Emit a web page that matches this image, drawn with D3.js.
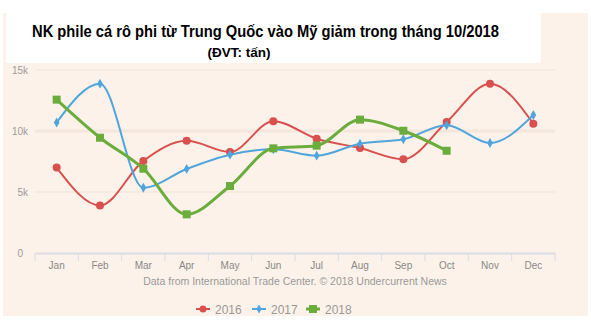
<!DOCTYPE html>
<html>
<head>
<meta charset="utf-8">
<script src="https://cdn.jsdelivr.net/npm/d3@7"></script>
<style>
  html, body { margin: 0; padding: 0; background: #ffffff; }
  svg { display: block; }
</style>
</head>
<body>
<svg id="chart" width="591" height="325"></svg>
<script>
const months = ["Jan","Feb","Mar","Apr","May","Jun","Jul","Aug","Sep","Oct","Nov","Dec"];
const values2016 = [7000, 3900, 7550, 9200, 8280, 10800, 9370, 8600, 7680, 10740, 13880, 10600];
const values2017 = [10700, 13880, 5350, 6890, 8060, 8500, 7980, 8960, 9320, 10470, 9020, 11310];
const values2018 = [12570, 9450, 6910, 3170, 5490, 8580, 8800, 10930, 10020, 8380];
const yTicks = [0, 5000, 10000, 15000];
const yTickLabels = ["0", "5k", "10k", "15k"];
const seriesNames = ["2016", "2017", "2018"];
const title = "NK phile cá rô phi từ Trung Quốc vào Mỹ giảm trong tháng 10/2018";
const subtitle = "(ĐVT: tấn)";
const credits = "Data from International Trade Center. © 2018 Undercurrent News";

const colors = ["#d9504e", "#4fa5dc", "#6aad3d"];
const font = "'Liberation Sans', Arial, sans-serif";

const svg = d3.select("#chart");

// backgrounds
svg.append("rect").attr("x", 3).attr("y", 13).attr("width", 585).attr("height", 303).attr("fill", "#fdf2e9");
svg.append("rect").attr("x", 6).attr("y", 13).attr("width", 535).attr("height", 50).attr("fill", "#ffffff");

// titles
svg.append("text").attr("x", 32).attr("y", 37).attr("font-family", font).attr("font-weight", "bold")
  .attr("font-size", 16).attr("fill", "#000")
  .attr("textLength", 467).attr("lengthAdjust", "spacingAndGlyphs").text(title);
svg.append("text").attr("x", 239).attr("y", 57).attr("text-anchor", "middle").attr("font-family", font)
  .attr("font-weight", "bold").attr("font-size", 13.5).attr("fill", "#000").text(subtitle);

const x = d3.scaleBand().domain(months).range([35, 555]);
const y = d3.scaleLinear().domain([0, 15000]).range([253, 70]);

// gridlines
const grid = svg.append("g");
yTicks.forEach((t, i) => {
  if (t === 0) return;
  grid.append("line").attr("x1", 35).attr("x2", 555).attr("y1", y(t)).attr("y2", y(t))
    .attr("stroke", t === 10000 ? "#f3e6dc" : "#f1e2d6").attr("stroke-width", t === 10000 ? 3 : 1);
  grid.append("text").attr("x", 28).attr("y", y(t) + 4).attr("text-anchor", "end")
    .attr("font-family", font).attr("font-size", 10).attr("fill", "#9a9a9a").text(yTickLabels[i]);
});
svg.append("text").attr("x", 23).attr("y", y(0) + 4).attr("text-anchor", "end")
  .attr("font-family", font).attr("font-size", 10).attr("fill", "#9a9a9a").text(yTickLabels[0]);

// x axis
const xAxis = d3.axisBottom(x).tickSize(0).tickPadding(9);
const gx = svg.append("g").attr("transform", `translate(0,${y(0)})`).call(xAxis);
gx.select(".domain").attr("stroke", "#d8dde6").attr("stroke-width", 2);
gx.selectAll(".tick text").attr("font-family", font).attr("font-size", 10).attr("fill", "#888");
// band dividers
const dividers = months.map(m => x(m)).concat([x.range()[1]]);
gx.selectAll("line.div").data(dividers).enter().append("line").attr("class", "div")
  .attr("x1", d => d).attr("x2", d => d).attr("y1", 0).attr("y2", 8)
  .attr("stroke", "#d8dde6").attr("stroke-width", 1);

// credits
svg.append("text").attr("x", 295).attr("y", 285).attr("text-anchor", "middle").attr("font-family", font)
  .attr("font-size", 10.5).attr("fill", "#999").text(credits);

const cx = m => x(m) + x.bandwidth() / 2;
const line = d3.line().x(d => cx(d.m)).y(d => y(d.v)).curve(d3.curveMonotoneX);

const allSeries = [values2016, values2017, values2018];
const widths = [2, 2, 3];
allSeries.forEach((vals, si) => {
  const data = vals.map((v, i) => ({ m: months[i], v }));
  svg.append("path").datum(data).attr("d", line).attr("fill", "none")
    .attr("stroke", colors[si]).attr("stroke-width", widths[si]);
  const g = svg.append("g");
  data.forEach(d => {
    if (si === 0) {
      g.append("circle").attr("cx", cx(d.m)).attr("cy", y(d.v)).attr("r", 4).attr("fill", colors[si]);
    } else if (si === 1) {
      g.append("path").attr("transform", `translate(${cx(d.m)},${y(d.v)})`)
        .attr("d", d3.symbol(d3.symbolDiamond, 28)()).attr("fill", colors[si]);
    } else {
      g.append("rect").attr("x", cx(d.m) - 4).attr("y", y(d.v) - 4).attr("width", 8).attr("height", 8)
        .attr("fill", colors[si]);
    }
  });
});

// legend
const legendX = [197, 253, 307];
seriesNames.forEach((name, si) => {
  const lx = legendX[si], ly = 309;
  svg.append("line").attr("x1", lx - 1).attr("x2", lx + 13).attr("y1", ly).attr("y2", ly)
    .attr("stroke", colors[si]).attr("stroke-width", si === 2 ? 3 : 2);
  if (si === 0) svg.append("circle").attr("cx", lx + 6).attr("cy", ly).attr("r", 3.5).attr("fill", colors[si]);
  else if (si === 1) svg.append("path").attr("transform", `translate(${lx + 6},${ly})`)
    .attr("d", d3.symbol(d3.symbolDiamond, 24)()).attr("fill", colors[si]);
  else svg.append("rect").attr("x", lx + 2).attr("y", ly - 4).attr("width", 8).attr("height", 8).attr("fill", colors[si]);
  svg.append("text").attr("x", lx + 18).attr("y", ly + 4.5).attr("font-family", font).attr("font-size", 12)
    .attr("fill", "#999").text(name);
});
</script>
</body>
</html>
